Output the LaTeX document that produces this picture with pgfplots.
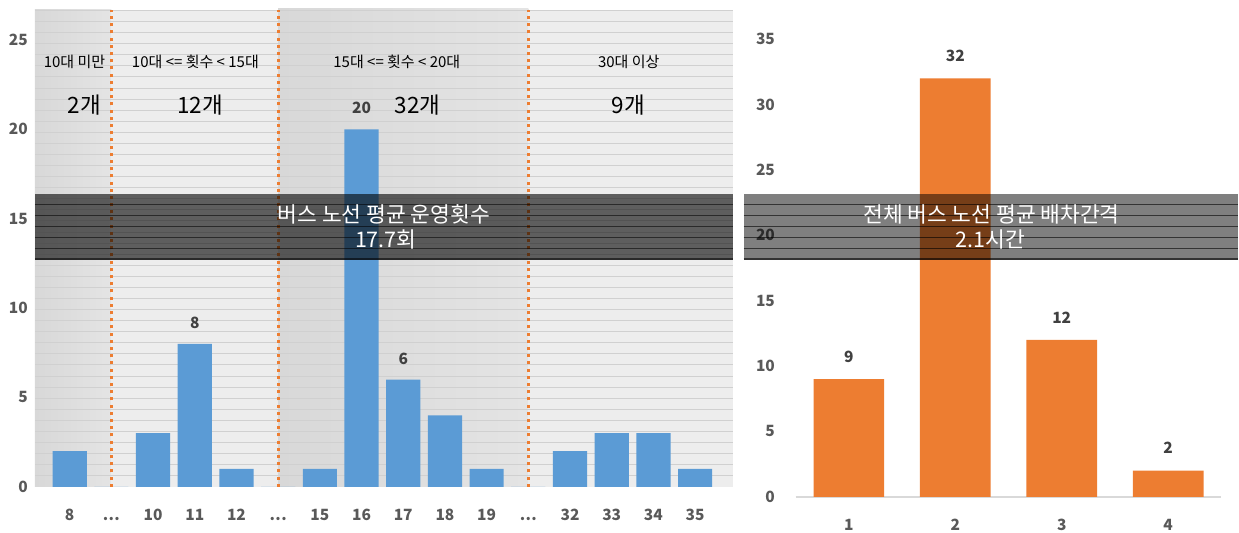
\documentclass[border=0pt]{standalone}
\usepackage{pgfplots}
\pgfplotsset{compat=1.18}
\usepackage{fontspec}
\setmainfont{Noto Sans CJK KR}
\definecolor{blueb}{HTML}{5B9BD5}
\definecolor{orangeb}{HTML}{ED7D31}
\definecolor{tickgray}{HTML}{595959}
\definecolor{lblgray}{HTML}{404040}
\definecolor{gridc}{HTML}{D0D0D0}
\definecolor{bgdarkA}{HTML}{D8D8D8}
\definecolor{bgdarkB}{HTML}{E4E4E4}
\definecolor{bglight}{HTML}{EDEDED}
\definecolor{baseg}{HTML}{D9D9D9}
\newcommand\dd{.\kern0.4pt.\kern0.4pt.}
\begin{document}
\begin{tikzpicture}[x=1pt,y=1pt]
\path (0,0) rectangle (1239,533);
% ---------------- left panel ----------------
\begin{axis}[
  set layers,
  at={(35pt,46pt)}, anchor=south west,
  scale only axis, width=698pt, height=477pt,
  xmin=-0.832, xmax=15.9, ymin=0, ymax=26.68,
  axis x line*=bottom, axis y line*=left,
  axis line style={draw=none},
  tick style={draw=none}, major tick length=0pt, minor tick length=0pt,
  ytick={0,5,...,25},
  minor ytick={0.62,1.24,...,26.5},
  yminorgrids=true, ymajorgrids=false,
  minor grid style={gridc, line width=0.8pt},
  xtick={0,...,15},
  xticklabels={8,\dd,10,11,12,\dd,15,16,17,18,19,\dd,32,33,34,35},
  /pgf/number format/assume math mode=true,
  ticklabel style={font=\fontsize{15.5}{18}\selectfont\bfseries, color=tickgray, inner sep=0pt},
  yticklabel style={anchor=east, xshift=-7pt},
  xticklabel style={anchor=base, yshift=-33.3pt},
  clip=false,
]
\begin{pgfonlayer}{axis background}
\shade[left color=bgdarkA, right color=bgdarkB] (axis cs:-0.832,0) rectangle (axis cs:1,26.68);
\fill[bglight] (axis cs:1,0) rectangle (axis cs:5,26.68);
\shade[left color=bgdarkA, right color=bgdarkB] (axis cs:5,0) rectangle (axis cs:11,26.75);
\fill[bglight] (axis cs:11,0) rectangle (axis cs:15.9,26.68);
\end{pgfonlayer}
\addplot[ybar, bar width=0.82, bar shift=0pt, fill=blueb, draw=none]
  coordinates {(0,2) (1,0) (2,3) (3,8) (4,1) (5,0) (6,1) (7,20) (8,6) (9,4) (10,1) (11,0) (12,2) (13,3) (14,3) (15,1)};
\addplot[draw=none, mark=none, nodes near coords, point meta=y,
  nodes near coords style={font=\fontsize{15.5}{18}\selectfont\bfseries, color=lblgray, anchor=south, inner sep=0pt, yshift=15pt}]
  coordinates {(3,8) (7,20) (8,6)};
\draw[orangeb, line width=3.3pt, dash pattern=on 3pt off 4.2pt] (axis cs:1,0) -- (axis cs:1,26.68);
\draw[orangeb, line width=3.3pt, dash pattern=on 3pt off 4.2pt] (axis cs:5,0) -- (axis cs:5,26.68);
\draw[orangeb, line width=3.3pt, dash pattern=on 3pt off 4.2pt] (axis cs:11,0) -- (axis cs:11,26.68);
\end{axis}
% ---------------- right panel ----------------
\begin{axis}[
  at={(796pt,36pt)}, anchor=south west,
  scale only axis, width=426pt, height=457.8pt,
  xmin=0.5, xmax=4.5, ymin=0, ymax=35,
  axis x line*=bottom, axis y line*=left,
  axis line style={draw=none},
  tick style={draw=none}, major tick length=0pt,
  ytick={0,5,...,35}, xtick={1,2,3,4},
  /pgf/number format/assume math mode=true,
  ticklabel style={font=\fontsize{15.5}{18}\selectfont\bfseries, color=tickgray, inner sep=0pt},
  yticklabel style={anchor=east, xshift=-20.5pt},
  xticklabel style={anchor=base, yshift=-33.3pt},
  clip=false,
]
\draw[baseg, line width=1.5pt] (axis cs:0.5,0) -- (axis cs:4.5,0);
\addplot[ybar, bar width=0.664, bar shift=0pt, fill=orangeb, draw=none,
  nodes near coords, point meta=y,
  nodes near coords style={font=\fontsize{15.5}{18}\selectfont\bfseries, color=lblgray, anchor=south, inner sep=0pt, yshift=16.5pt}]
  coordinates {(1,9) (2,32) (3,12) (4,2)};
\end{axis}
% ---------------- category annotations ----------------
\begin{scope}[every node/.style={inner sep=0pt, text=black}]
\node[font=\fontsize{15}{18}\selectfont] at (74.5,471.3) {10대 미만};
\node[font=\fontsize{15}{18}\selectfont] at (195.5,471.3) {10대 <= 횟수 < 15대};
\node[font=\fontsize{15}{18}\selectfont] at (397,471.3) {15대 <= 횟수 < 20대};
\node[font=\fontsize{15}{18}\selectfont] at (629,471.3) {30대 이상};
\node[font=\fontsize{22.5}{26}\selectfont] at (84.5,428) {2개};
\node[font=\fontsize{22.5}{26}\selectfont] at (200,428) {12개};
\node[font=\fontsize{22.5}{26}\selectfont] at (418,428) {32개};
\node[font=\fontsize{22.5}{26}\selectfont] at (628.5,428) {9개};
\end{scope}
% ---------------- bands ----------------
\fill[black, opacity=0.6] (35,273) rectangle (733,339);
\fill[black, opacity=0.5] (744,273) rectangle (1239,339);
\foreach \yy in {328.7,317.7,306.7,295.7,284.7,273.9} {
  \draw[black, opacity=0.55, line width=1.2pt] (35,\yy) -- (733,\yy);
  \draw[black, opacity=0.6, line width=1.2pt] (744,\yy) -- (1239,\yy);
}
\node[inner sep=0pt, text=white, font=\fontsize{21.5}{25}\selectfont] at (384,318) {버스 노선 평균 운영횟수};
\node[inner sep=0pt, text=white, font=\fontsize{21.5}{25}\selectfont] at (386,293) {17.7회};
\node[inner sep=0pt, text=white, font=\fontsize{21.5}{25}\selectfont] at (992,318) {전체 버스 노선 평균 배차간격};
\node[inner sep=0pt, text=white, font=\fontsize{21.5}{25}\selectfont] at (991,293) {2.1시간};
\end{tikzpicture}
\end{document}
